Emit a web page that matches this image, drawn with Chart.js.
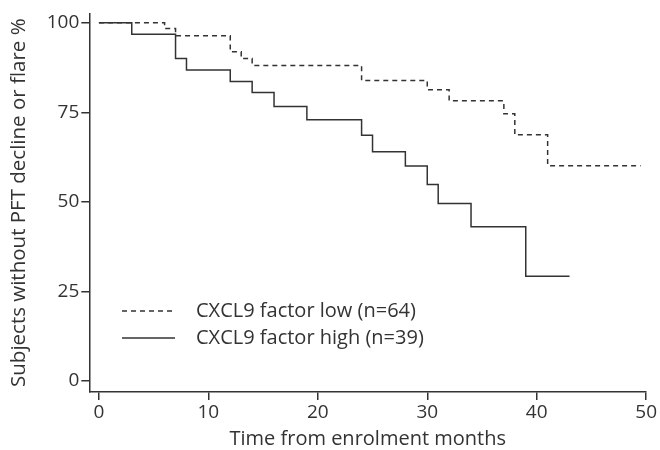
<!DOCTYPE html>
<html>
<head>
<meta charset="utf-8">
<script src="https://cdn.jsdelivr.net/npm/chart.js@4.4.1/dist/chart.umd.min.js"></script>
<style>
    html, body { margin: 0; padding: 0; background: #fff; }
</style>
</head>
<body>
<canvas id="km" width="660" height="450"></canvas>
<script>
// Kaplan-Meier steps (months, % without event)
const highTimes = [0, 3, 7, 8, 12, 14, 16, 19, 24, 25, 28, 30, 31, 34, 39, 43];
const highSurv  = [100, 96.8, 90.0, 86.8, 83.6, 80.5, 76.6, 72.9, 68.6, 64.0, 60.0, 54.8, 49.5, 43.0, 29.2, 29.2];
const lowTimes  = [0, 6, 7, 12, 13, 14, 24, 30, 32, 37, 38, 41, 49.5];
const lowSurv   = [100, 98.4, 96.4, 91.9, 90.0, 88.1, 83.9, 81.3, 78.2, 74.6, 68.7, 60.1, 60.1];

const xTicks = [0, 10, 20, 30, 40, 50];
const yTicks = [0, 25, 50, 75, 100];

const seriesLabels = ['CXCL9 factor low (n=64)', 'CXCL9 factor high (n=39)'];

const INK = '#333';
const FONT = "'Open Sans', Roboto, sans-serif";

const toPoints = (xs, ys) => xs.map((x, i) => ({ x, y: ys[i] }));

// legend sits inside the plot, bottom-left
const insideLegend = {
    id: 'insideLegend',
    afterDatasetsDraw(chart) {
        const { ctx } = chart;
        const rows = [311, 338];
        ctx.save();
        chart.data.datasets.forEach((ds, i) => {
            const y = rows[i];
            ctx.strokeStyle = ds.borderColor;
            ctx.lineWidth = ds.borderWidth;
            ctx.setLineDash(ds.borderDash || []);
            ctx.beginPath();
            ctx.moveTo(122, y);
            ctx.lineTo(175, y);
            ctx.stroke();
            ctx.setLineDash([]);
            ctx.fillStyle = INK;
            ctx.font = '20px ' + FONT;
            ctx.textBaseline = 'middle';
            ctx.fillText(ds.label, 196, y);
        });
        ctx.restore();
    },
};

new Chart(document.getElementById('km'), {
    type: 'line',
    data: {
        datasets: [
            {
                label: seriesLabels[0],
                data: toPoints(lowTimes, lowSurv),
                stepped: true,
                borderColor: INK,
                borderWidth: 1.5,
                borderDash: [5, 4],
                pointRadius: 0,
                fill: false,
            },
            {
                label: seriesLabels[1],
                data: toPoints(highTimes, highSurv),
                stepped: true,
                borderColor: INK,
                borderWidth: 1.5,
                pointRadius: 0,
                fill: false,
            },
        ],
    },
    options: {
        responsive: false,
        animation: false,
        devicePixelRatio: 1,
        layout: { padding: { top: 13, right: 9, left: 0, bottom: 0 } },
        plugins: {
            legend: { display: false },
            tooltip: { enabled: false },
        },
        scales: {
            x: {
                type: 'linear',
                min: -0.88,
                max: 50,
                afterBuildTicks: s => { s.ticks = xTicks.map(v => ({ value: v })); },
                afterFit: s => { s.height = 58; },
                grid: { drawOnChartArea: false, drawTicks: true, tickLength: 8, color: INK, lineWidth: 1.5 },
                border: { display: true, color: INK, width: 1.5 },
                ticks: { color: INK, font: { family: FONT, size: 19, lineHeight: 1 }, padding: 3, maxRotation: 0 },
                title: {
                    display: true,
                    text: 'Time from enrolment months',
                    color: INK,
                    font: { family: FONT, size: 20, lineHeight: 1 },
                    padding: { top: 0, bottom: 1 },
                },
            },
            y: {
                min: -3.13,
                max: 102.63,
                afterBuildTicks: s => { s.ticks = yTicks.map(v => ({ value: v })); },
                afterFit: s => { s.width = 89.3; },
                grid: { drawOnChartArea: false, drawTicks: true, tickLength: 8, color: INK, lineWidth: 1.5 },
                border: { display: true, color: INK, width: 1.5 },
                ticks: { color: INK, font: { family: FONT, size: 19 }, padding: 2 },
                title: {
                    display: true,
                    text: 'Subjects without PFT decline or flare %',
                    color: INK,
                    font: { family: FONT, size: 20.5, lineHeight: 1 },
                    padding: { top: 9, bottom: 0 },
                },
            },
        },
    },
    plugins: [insideLegend],
});
</script>
</body>
</html>
